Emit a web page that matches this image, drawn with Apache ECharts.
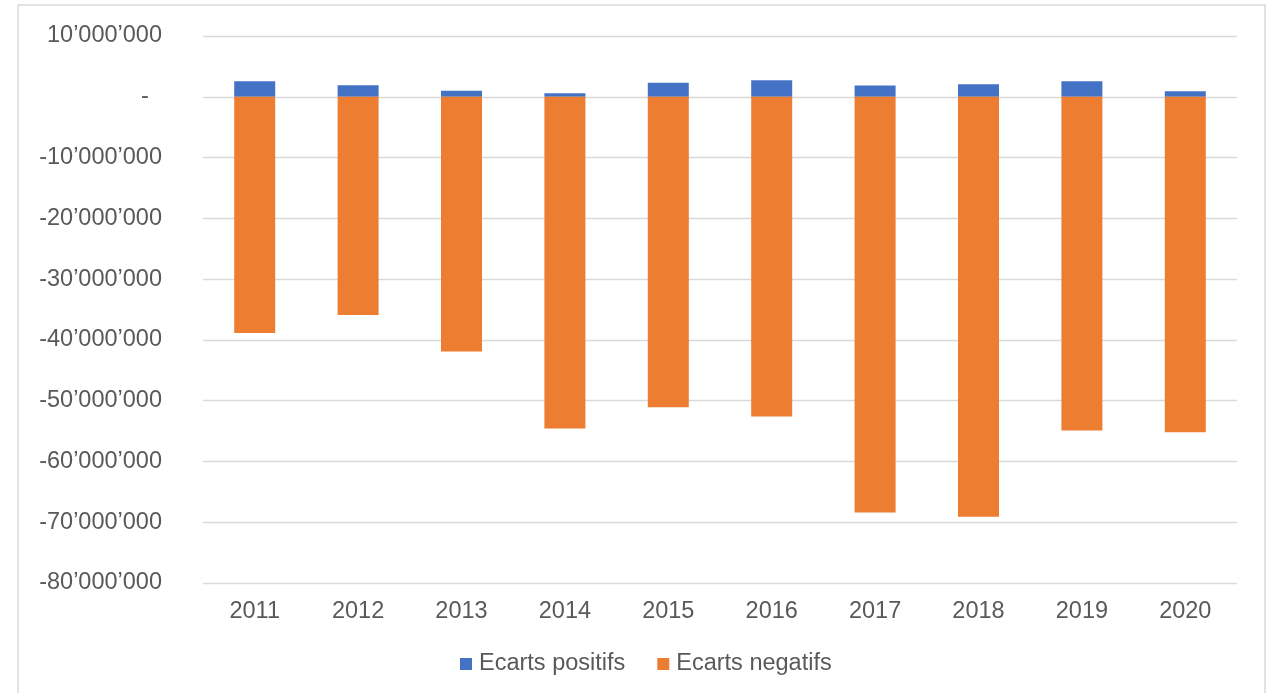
<!DOCTYPE html>
<html>
<head>
<meta charset="utf-8">
<script src="https://cdn.jsdelivr.net/npm/echarts@6/dist/echarts.min.js"></script>
<style>html,body{margin:0;padding:0;background:#fff;}#c{width:1269px;height:693px;}</style>
</head>
<body>
<div id="c"></div>
<script>
var categories = ['2011','2012','2013','2014','2015','2016','2017','2018','2019','2020'];
var ecartsPositifs = [2550000, 1900000, 1000000, 580000, 2300000, 2700000, 1850000, 2050000, 2550000, 900000];
var ecartsNegatifs = [-38850000, -35900000, -41900000, -54600000, -51100000, -52600000, -68400000, -69100000, -54900000, -55200000];
var yMin = -80000000, yMax = 10000000, yStep = 10000000;

function fmt(v) {
  if (v === 0) return '-\u00a0\u00a0';
  var neg = v < 0;
  var s = Math.abs(v).toString().replace(/\B(?=(\d{3})+(?!\d))/g, '\u2019');
  return (neg ? '-' : '') + s;
}

var chart = echarts.init(document.getElementById('c'), null, {renderer: 'canvas'});
chart.setOption({
  animation: false,
  textStyle: {fontFamily: 'Liberation Sans, Arial, sans-serif'},
  graphic: [{
    type: 'rect', silent: true,
    shape: {x: 18, y: 5, width: 1247, height: 700},
    style: {fill: 'none', stroke: '#D9D9D9', lineWidth: 1.5}
  }],
  grid: {left: 203, right: 32, top: 36, bottom: 110},
  legend: {
    bottom: 12, left: 455,
    itemWidth: 12, itemHeight: 12, itemGap: 32,
    icon: 'rect',
    textStyle: {color: '#595959', fontSize: 23.5, fontFamily: 'Liberation Sans, Arial, sans-serif', padding: [0, 0, 0, 2]},
    data: ['Ecarts positifs', 'Ecarts negatifs']
  },
  xAxis: {
    type: 'category', data: categories,
    axisLine: {show: false}, axisTick: {show: false},
    axisLabel: {color: '#595959', fontSize: 23.5, margin: 17}
  },
  yAxis: {
    type: 'value', min: yMin, max: yMax, interval: yStep,
    axisLine: {show: false}, axisTick: {show: false},
    splitLine: {lineStyle: {color: '#D9D9D9', width: 1.3}},
    axisLabel: {color: '#595959', fontSize: 23.5, margin: 41, formatter: fmt}
  },
  series: [
    {name: 'Ecarts positifs', type: 'bar', stack: 'a', barWidth: 41, data: ecartsPositifs, itemStyle: {color: '#4472C4'}},
    {name: 'Ecarts negatifs', type: 'bar', stack: 'a', barWidth: 41, data: ecartsNegatifs, itemStyle: {color: '#ED7D31'}}
  ]
});
</script>
</body>
</html>
